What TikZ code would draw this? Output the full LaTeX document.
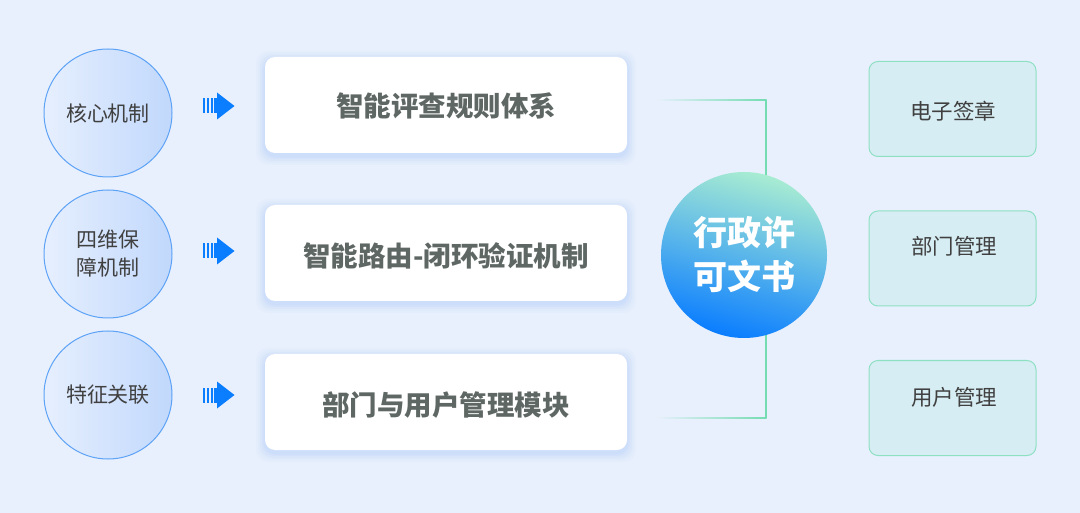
\documentclass[tikz,border=0pt]{standalone}
\usepackage{fontspec}
\setmainfont{Noto Sans CJK SC}
\definecolor{bg}{HTML}{E9F0FD}
\definecolor{circline}{HTML}{5CA2F6}
\definecolor{circL}{HTML}{E6EFFE}
\definecolor{circR}{HTML}{C1D8FC}
\definecolor{arrowblue}{HTML}{0A7EFF}
\definecolor{boxtext}{HTML}{5E6763}
\definecolor{dark}{HTML}{404040}
\definecolor{linegreen}{HTML}{74DCB2}
\definecolor{rfill}{HTML}{D6EDF3}
\definecolor{rline}{HTML}{8EE0C2}
\definecolor{mint}{HTML}{A8ECD2}
\definecolor{midblue}{HTML}{5AB6EA}
\definecolor{deepblue}{HTML}{0A7DFF}
\definecolor{shadowblue}{HTML}{BFD5FA}
\tikzset{
  leftcirc/.style={circle, draw=circline, line width=1pt, left color=circL, right color=circR,
    minimum size=128pt, inner sep=0pt, text=dark, font=\fontsize{21}{28}\selectfont, align=center},
  midbox/.style={rectangle, rounded corners=10pt, fill=white, minimum width=362pt, minimum height=96pt,
    inner sep=0pt},
  midtext/.style={text=boxtext, font=\fontsize{27.5}{30}\selectfont\bfseries},
  rbox/.style={rectangle, rounded corners=9pt, draw=rline, line width=1pt, fill=rfill,
    minimum width=167pt, minimum height=95pt, inner sep=0pt},
  rtext/.style={text=dark, font=\fontsize{21.5}{24}\selectfont},
  pics/fatarrow/.style={code={
    \fill[arrowblue] (-32,-7.5) rectangle (-29.8,7.5);
    \fill[arrowblue] (-28,-7.5) rectangle (-25.8,7.5);
    \fill[arrowblue] (-24,-7.5) rectangle (-21.8,7.5);
    \fill[arrowblue] (-20.5,-7.5) rectangle (-17,7.5);
    \fill[arrowblue] (-17.5,-13.5) -- (0,0) -- (-17.5,13.5) -- cycle;
  }}
}
\begin{document}
\begin{tikzpicture}[x=1pt,y=-1pt]
\fill[bg] (0,0) rectangle (1080,513);
\useasboundingbox (0,0) rectangle (1080,513);

% shadows of middle boxes
\foreach \cy in {105,253,402}{
  \foreach \s/\o in {9/0.10,7/0.12,5/0.16,3/0.22,1.5/0.3}{
    \fill[shadowblue, opacity=\o, rounded corners=12pt]
      (265-\s,\cy-48-\s+3) rectangle (627+\s,\cy+48+\s+3);
  }
}

% left circles
\node[leftcirc] (l1) at (108,113) {核心机制};
\node[leftcirc] (l2) at (108,254) {四维保\\障机制};
\node[leftcirc] (l3) at (108,395) {特征关联};

% arrows
\coordinate (a1) at (234.5,106);
\coordinate (a2) at (234.5,251);
\coordinate (a3) at (234.5,395);
\pic at (a1) {fatarrow};
\pic at (a2) {fatarrow};
\pic at (a3) {fatarrow};

% middle boxes
\node[midbox] (m1) at (446,105) {};
\node[midbox] (m2) at (446,253) {};
\node[midbox] (m3) at (446,402) {};
\node[midtext] (t1) at (446,106) {智能评查规则体系};
\node[midtext] (t2) at (446,256) {智能路由-闭环验证机制};
\node[midtext] (t3) at (446,405) {部门与用户管理模块};

% connectors
\coordinate (h1) at (655,100);
\coordinate (k1) at (766,100);
\coordinate (h3) at (655,418);
\coordinate (k3) at (766,418);
\shade[left color=bg, right color=linegreen] (655,99.4) rectangle (766.6,100.9);
\shade[left color=bg, right color=linegreen] (655,417.4) rectangle (766.6,418.9);
\draw[linegreen, line width=1.4pt] (k1) -- (k3);

% center circle
\node[circle, minimum size=166pt, inner sep=0pt, top color=mint, bottom color=deepblue,
  middle color=midblue, shading angle=-15, text=white, align=center,
  font=\fontsize{34}{44}\selectfont\bfseries] (c) at (744,255) {行政许\\可文书};

% right boxes
\node[rbox] (r1) at (952.5,109) {};
\node[rbox] (r2) at (952.5,258.5) {};
\node[rbox] (r3) at (952.5,408) {};
\node[rtext] (s1) at (953,111) {电子签章};
\node[rtext] (s2) at (954,246) {部门管理};
\node[rtext] (s3) at (954,397) {用户管理};
\end{tikzpicture}
\end{document}
